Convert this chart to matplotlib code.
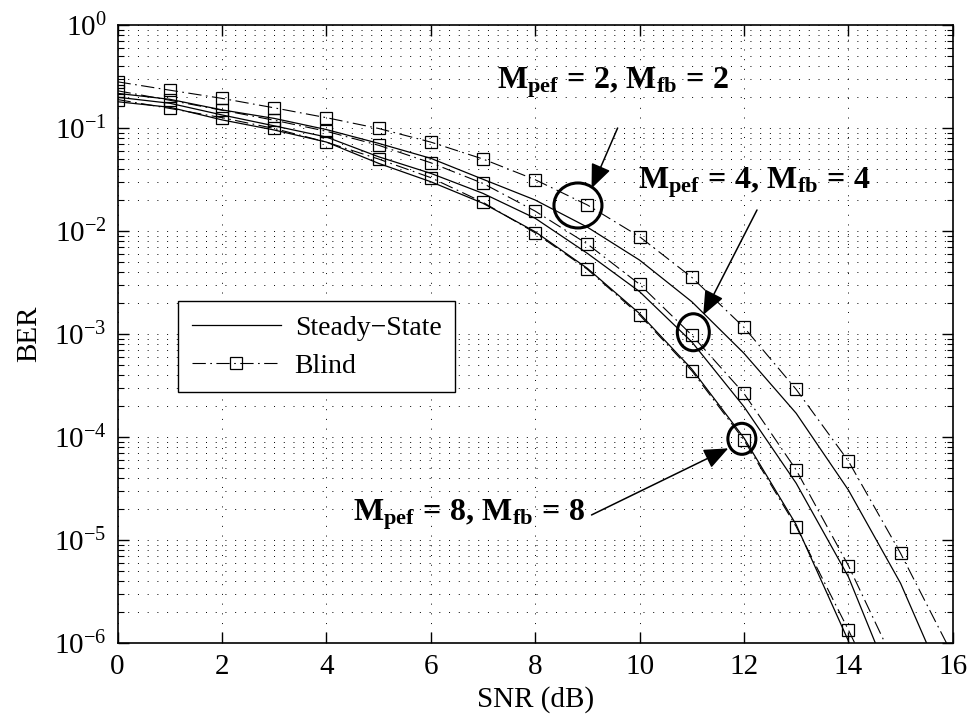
import numpy as np
import matplotlib
matplotlib.use('Agg')
import matplotlib.pyplot as plt
from matplotlib.patches import Ellipse
from matplotlib.transforms import ScaledTranslation
from matplotlib.ticker import LogLocator, NullFormatter

plt.rcParams['font.family'] = ['Liberation Serif', 'DejaVu Serif']
plt.rcParams['mathtext.fontset'] = 'custom'
plt.rcParams['mathtext.rm'] = 'Liberation Serif'
plt.rcParams['mathtext.bf'] = 'Liberation Serif:bold'
plt.rcParams['mathtext.it'] = 'Liberation Serif:italic'

# SNR axis (dB)
snr = np.arange(0, 17)

# steady-state BER curves
ss_m2 = [0.217, 0.190, 0.150, 0.124, 0.0966, 0.0710, 0.0508, 0.0318, 0.0200,
         0.0109, 0.00522, 0.00206, 6.5e-4, 1.70e-4, 3.06e-5, 3.8e-6, 2.6e-7]
ss_m4 = [0.199, 0.174, 0.134, 0.105, 0.0818, 0.0526, 0.0363, 0.0232, 0.0133,
         0.00607, 0.00258, 8.4e-4, 1.97e-4, 3.56e-5, 4.4e-6, 2.5e-7, 1.0e-8]
ss_m8 = [0.180, 0.159, 0.120, 0.0957, 0.0731, 0.0454, 0.0301, 0.0186, 0.00984,
         0.00434, 0.00158, 4.57e-4, 9.8e-5, 1.41e-5, 1.05e-6, 1.0e-8, 1.0e-10]

# blind BER curves
bl_m2 = [0.281, 0.233, 0.194, 0.157, 0.126, 0.099, 0.073, 0.050, 0.0315,
         0.0179, 0.00881, 0.00355, 0.00116, 2.9e-4, 5.85e-5, 7.43e-6, 7.6e-7]
bl_m4 = [0.230, 0.186, 0.149, 0.119, 0.093, 0.068, 0.046, 0.029, 0.0156,
         0.00748, 0.00304, 9.77e-4, 2.65e-4, 4.79e-5, 5.64e-6, 4.8e-7, 4.0e-8]
bl_m8 = [0.189, 0.155, 0.126, 0.099, 0.073, 0.050, 0.033, 0.019, 0.0096,
         0.00425, 0.00153, 4.4e-4, 9.35e-5, 1.35e-5, 1.34e-6, 1.2e-7, 1.0e-8]

steady = [ss_m2, ss_m4, ss_m8]
blind = [bl_m2, bl_m4, bl_m8]

# annotation labels, circled points, arrows (data coords)
labels = [r'$\mathbf{M_{pef}\,=\,2,\,M_{fb}\,=\,2}$',
          r'$\mathbf{M_{pef}\,=\,4,\,M_{fb}\,=\,4}$',
          r'$\mathbf{M_{pef}\,=\,8,\,M_{fb}\,=\,8}$']
label_pos = [(7.27, 0.244), (9.97, 0.0261), (4.51, 1.56e-5)]
arrow_from = [(9.58, 0.1), (12.25, 0.016), (9.08, 1.75e-5)]
arrow_to = [(9.08, 0.0259), (11.22, 0.00153), (11.70, 7.76e-5)]
circ_pos = [(8.82, 0.0177), (11.03, 0.00104), (11.96, 9.6e-5)]
circ_size = [(0.48, 0.45), (0.32, 0.37), (0.28, 0.31)]  # inches

fig = plt.figure(figsize=(9.73, 7.21), dpi=100)
ax = fig.add_axes([0.1208, 0.1082, 0.8584, 0.8571])

for i, y in enumerate(steady):
    ax.plot(snr, y, '-', color='k', lw=0.9,
            label='Steady\u2212State' if i == 0 else None)
for i, y in enumerate(blind):
    ax.plot(snr, y, color='k', lw=0.8, dashes=[12, 4, 1.5, 4],
            marker='s', ms=8, mfc='none', mec='k', mew=0.9,
            label='Blind' if i == 0 else None)

ax.set_yscale('log')
ax.set_xlim(0, 16)
ax.set_ylim(1e-6, 1)
ax.set_xticks(range(0, 17, 2))
ax.yaxis.set_major_locator(LogLocator(base=10, numticks=10))
ax.yaxis.set_minor_locator(LogLocator(base=10, subs=np.arange(2, 10), numticks=10))
ax.yaxis.set_minor_formatter(NullFormatter())

ax.tick_params(which='both', direction='in', top=True, right=True, labelsize=21)
ax.tick_params(which='major', length=8, width=1, pad=8)
ax.tick_params(which='minor', length=4, width=0.8)
for sp in ax.spines.values():
    sp.set_linewidth(1.2)

ax.grid(True, which='major', axis='both', color='k', lw=0.7, linestyle=(0, (1, 9)))
ax.grid(True, which='minor', axis='y', color='k', lw=0.7, linestyle=(0, (1, 9)))

ax.set_xlabel('SNR (dB)', fontsize=21, labelpad=4)
ax.set_ylabel('BER', fontsize=21, labelpad=8)

leg = ax.legend(loc='upper left', bbox_to_anchor=(0.0724, 0.553), fontsize=20,
                fancybox=False, framealpha=1, edgecolor='k', handlelength=3.2,
                handletextpad=0.5, borderpad=0.5, labelspacing=0.45,
                borderaxespad=0)
leg.get_frame().set_linewidth(1.0)

for lab, lp, af, at, cp, cs in zip(labels, label_pos, arrow_from, arrow_to,
                                   circ_pos, circ_size):
    ax.text(lp[0], lp[1], lab, fontsize=23, ha='left', va='baseline')
    ax.annotate('', xy=at, xytext=af,
                arrowprops=dict(arrowstyle='-|>,head_length=0.6,head_width=0.25',
                                mutation_scale=25, lw=1.1, color='k',
                                shrinkA=0, shrinkB=0))
    trans = fig.dpi_scale_trans + ScaledTranslation(cp[0], cp[1], ax.transData)
    ax.add_patch(Ellipse((0, 0), cs[0], cs[1], transform=trans,
                         fill=False, ec='k', lw=2.2, zorder=5))

fig.savefig('out.png', dpi=100)
